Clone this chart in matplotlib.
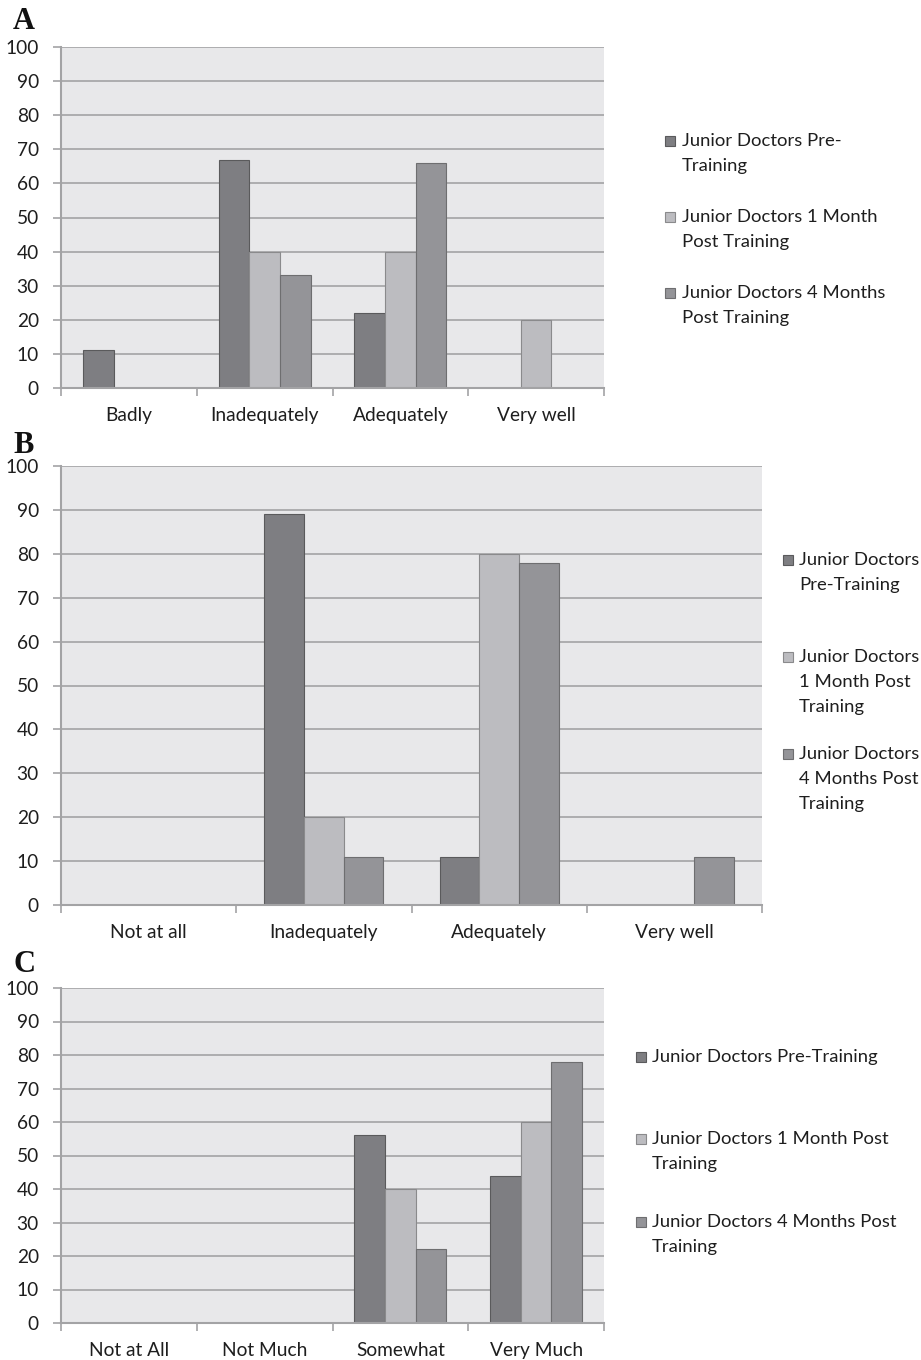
import matplotlib
matplotlib.use("Agg")
import matplotlib.pyplot as plt
from matplotlib.patches import Rectangle
import numpy as np

plt.rcParams["font.family"] = ["Lato", "DejaVu Sans"]

# --- data ---
series = ["Junior Doctors Pre-Training",
          "Junior Doctors 1 Month Post Training",
          "Junior Doctors 4 Months Post Training"]

cats_a = ["Badly", "Inadequately", "Adequately", "Very well"]
pre_a = [11, 67, 22, 0]
m1_a = [0, 40, 40, 20]
m4_a = [0, 33, 66, 0]

cats_b = ["Not at all", "Inadequately", "Adequately", "Very well"]
pre_b = [0, 89, 11, 0]
m1_b = [0, 20, 80, 0]
m4_b = [0, 11, 78, 11]

cats_c = ["Not at All", "Not Much", "Somewhat", "Very Much"]
pre_c = [0, 0, 56, 44]
m1_c = [0, 0, 40, 60]
m4_c = [0, 0, 22, 78]

leg_a = ["Junior Doctors Pre-\nTraining",
         "Junior Doctors 1 Month\nPost Training",
         "Junior Doctors 4 Months\nPost Training"]
leg_b = ["Junior Doctors\nPre-Training",
         "Junior Doctors\n1 Month Post\nTraining",
         "Junior Doctors\n4 Months Post\nTraining"]
leg_c = ["Junior Doctors Pre-Training",
         "Junior Doctors 1 Month Post\nTraining",
         "Junior Doctors 4 Months Post\nTraining"]

colors = ["#7e7e82", "#bcbcc0", "#949498"]
edges = ["#5a5a5c", "#8a8a8c", "#6e6e70"]
BG = "#e8e8ea"
GRID = "#a3a3a5"

W, H = 921, 1360
fig = plt.figure(figsize=(W / 100, H / 100), dpi=100)


def px_axes(left, right, top, bottom):
    return fig.add_axes([left / W, 1 - bottom / H, (right - left) / W, (bottom - top) / H])


def draw_panel(ax, cats, vals):
    x = np.arange(len(cats))
    bw = 0.226
    for k, v in enumerate(vals):
        ax.bar(x + (k - 1) * bw, v, bw, color=colors[k], edgecolor=edges[k],
               linewidth=0.8, zorder=3)
    ax.set_facecolor(BG)
    ax.set_xlim(-0.5, len(cats) - 0.5)
    ax.set_ylim(0, 100)
    ax.set_yticks(range(0, 101, 10))
    ax.yaxis.grid(True, color=GRID, linewidth=1.2, zorder=0)
    ax.set_axisbelow(True)
    ax.set_xticks(x)
    ax.set_xticklabels(cats, fontsize=13.8, color="#1e1e1e")
    ax.set_xticks(np.arange(-0.5, len(cats)), minor=True)
    ax.tick_params(axis="x", which="major", length=0, pad=13.5)
    ax.tick_params(axis="x", which="minor", length=6, width=1.2, color=GRID, direction="out")
    ax.tick_params(axis="y", length=6, width=1.2, color=GRID, labelsize=13.8,
                   labelcolor="#1e1e1e", pad=10)
    for s in ("top", "right"):
        ax.spines[s].set_visible(False)
    for s in ("left", "bottom"):
        ax.spines[s].set_color(GRID)
        ax.spines[s].set_linewidth(1.5)
        ax.spines[s].set_zorder(4)


def draw_legend(labels, sq_x, text_x, y_firsts, line=25):
    for k, (lab, yc) in enumerate(zip(labels, y_firsts)):
        fig.patches.append(Rectangle((sq_x / W, 1 - (yc + 5) / H), 10 / W, 10 / H,
                                     transform=fig.transFigure, facecolor=colors[k],
                                     edgecolor=edges[k], linewidth=0.8))
        for i, ln in enumerate(lab.split("\n")):
            fig.text(text_x / W, 1 - (yc + i * line) / H, ln, fontsize=13.3,
                     color="#1e1e1e", va="center", ha="left")


axA = px_axes(61, 604, 47, 388)
draw_panel(axA, cats_a, [pre_a, m1_a, m4_a])
draw_legend(leg_a, 665, 682, [141, 217, 293])

axB = px_axes(61, 762, 466, 905)
draw_panel(axB, cats_b, [pre_b, m1_b, m4_b])
draw_legend(leg_b, 783, 799, [560, 657, 754])

axC = px_axes(61, 604, 988, 1323)
draw_panel(axC, cats_c, [pre_c, m1_c, m4_c])
draw_legend(leg_c, 636, 652, [1057, 1139, 1222])

for letter, yb in (("A", 29), ("B", 453), ("C", 972)):
    fig.text(13 / W, 1 - yb / H, letter, fontsize=22, fontweight="bold",
             family="Liberation Serif", va="baseline", ha="left", color="#111111")

fig.savefig("out.png", dpi=100, facecolor="white")
